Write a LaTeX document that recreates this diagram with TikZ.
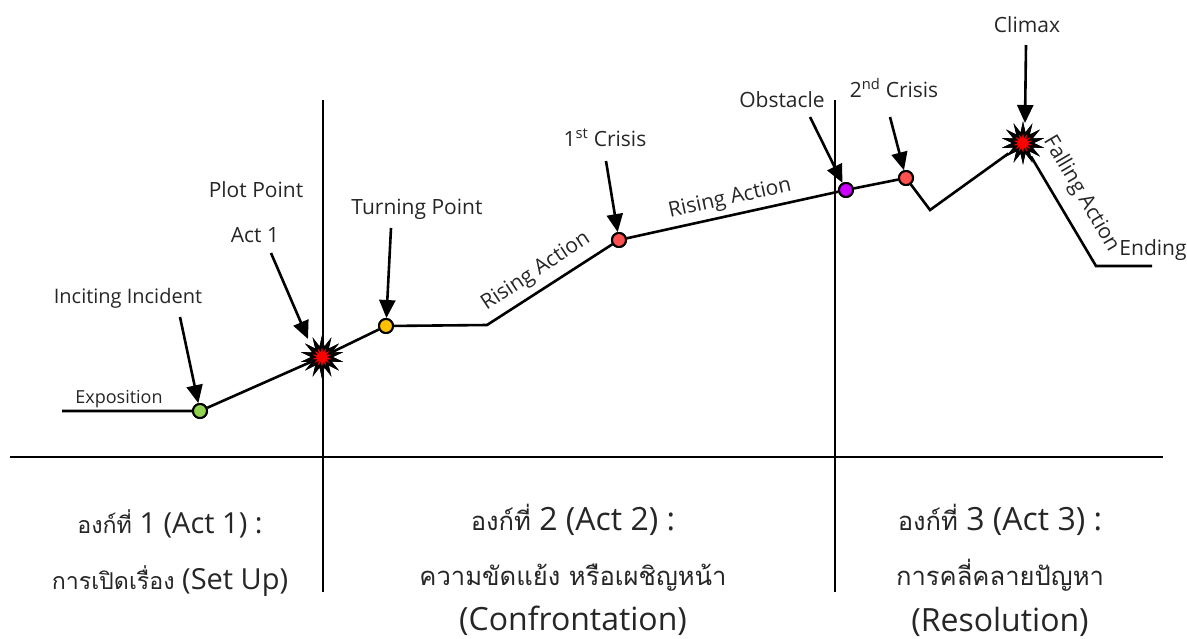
\documentclass[tikz,border=0pt]{standalone}
\usepackage{fontspec}
\setmainfont{Open Sans}
\newfontfamily\thaifont[Script=Thai,Scale=0.8]{Loma}
\usetikzlibrary{shapes.geometric,arrows.meta}
\definecolor{txt}{HTML}{262626}
\definecolor{dgreen}{HTML}{92D050}
\definecolor{dyellow}{HTML}{FFC000}
\definecolor{dred}{HTML}{FF5050}
\definecolor{dpurple}{HTML}{CC00FF}
\tikzset{
  lbl/.style={text=txt, font=\fontsize{21}{24}\selectfont, inner sep=0pt, anchor=base},
  rlbl/.style={text=txt, font=\fontsize{21}{24}\selectfont, inner sep=0pt},
  big/.style={text=txt, font=\fontsize{32}{36}\selectfont, inner sep=0pt, anchor=base},
  bigs/.style={text=txt, font=\fontsize{29}{34}\selectfont, inner sep=0pt, anchor=base},
  dot/.style={circle, draw=black, line width=2pt, minimum size=14pt, inner sep=0pt},
  burst/.style={star, star points=14, star point ratio=2.0, minimum size=32pt, inner sep=0pt, draw=black, fill=red, line width=2.4pt, miter limit=20},
  plotline/.style={line width=2.6pt, line join=miter},
  arr/.style={line width=2.6pt, -{Triangle[length=18pt,width=16pt]}},
  thin/.style={line width=1.1pt}
}
\begin{document}
\begin{tikzpicture}[x=1pt,y=-1pt]
\useasboundingbox (0,0) rectangle (1187,638);
% axes
\coordinate (axl) at (10,457);
\coordinate (axr) at (1163,457);
\coordinate (v1t) at (323,100);
\coordinate (v1b) at (323,592);
\coordinate (v2t) at (835,100);
\coordinate (v2b) at (835,592);
\draw[thin] (axl) -- (axr);
\draw[thin] (v1t) -- (v1b);
\draw[thin] (v2t) -- (v2b);
% plot points
\coordinate (p0) at (62,411);
\coordinate (p3) at (487,325);
\coordinate (p7) at (930,210);
\coordinate (p9) at (1096,266);
\coordinate (p10) at (1152,266);
\node[dot, fill=dgreen] (gdot) at (200,411) {};
\node[burst] (pp) at (322,357) {};
\node[dot, fill=dyellow] (ydot) at (386,326) {};
\node[dot, fill=dred] (r1dot) at (619,240) {};
\node[dot, fill=dpurple] (pdot) at (846,190) {};
\node[dot, fill=dred] (r2dot) at (906,178) {};
\node[burst] (cl) at (1023,143) {};
\draw[plotline] (p0) -- (gdot) -- (pp) -- (ydot) -- (p3) -- (r1dot) -- (pdot) -- (r2dot) -- (p7) -- (cl) -- (p9) -- (p10);
% redraw markers on top
\node[dot, fill=dgreen] at (gdot) {};
\node[dot, fill=dyellow] at (ydot) {};
\node[dot, fill=dred] at (r1dot) {};
\node[dot, fill=dpurple] at (pdot) {};
\node[dot, fill=dred] at (r2dot) {};
\node[burst] at (pp) {};
\node[burst] at (cl) {};
% arrows
\coordinate (a1) at (180,317);
\coordinate (a2) at (271,253);
\coordinate (t2) at (308,339);
\coordinate (a3) at (391,228);
\coordinate (a4) at (606,161);
\coordinate (a5) at (810,117);
\coordinate (a6) at (890,117);
\coordinate (a7) at (1026,45);
\coordinate (t7) at (1025,123);
\draw[arr] (a1) -- (gdot);
\draw[arr] (a2) -- (t2);
\draw[arr] (a3) -- (ydot);
\draw[arr] (a4) -- (r1dot);
\draw[arr] (a5) -- (pdot);
\draw[arr] (a6) -- (r2dot);
\draw[arr] (a7) -- (t7);
% labels
\node[lbl, font=\fontsize{18}{22}\selectfont] (lexp) at (119,403) {Exposition};
\node[lbl, font=\fontsize{20}{24}\selectfont] (linc) at (128,303) {Inciting Incident};
\node[lbl] (lpp) at (256,197) {Plot Point};
\node[lbl] (lact) at (255,242) {Act 1};
\node[lbl] (ltp) at (417,214) {Turning Point};
\node[lbl] (lc1) at (605,146) {1\textsuperscript{st} Crisis};
\node[rlbl, rotate=33.5] (lra1) at (536,272) {Rising Action};
\node[rlbl, rotate=12.4] (lra2) at (730,199) {Rising Action};
\node[lbl] (lobs) at (782,107) {Obstacle};
\node[lbl] (lc2) at (894,97) {2\textsuperscript{nd} Crisis};
\node[lbl] (lcl) at (1027,32) {Climax};
\node[rlbl, rotate=-59.5] (lfa) at (1081,194) {Falling Action};
\node[lbl] (lend) at (1153,255) {Ending};
% bottom
\node[bigs] (b11) at (170,533) {{\thaifont องก์ที่} 1 (Act 1) :};
\node[bigs] (b12) at (170,589) {{\thaifont การเปิดเรื่อง} (Set Up)};
\node[big] (b21) at (573,530) {{\thaifont องก์ที่} 2 (Act 2) :};
\node[big] (b22) at (573,585) {\thaifont ความขัดแย้ง หรือเผชิญหน้า};
\node[big] (b23) at (573,630) {(Confrontation)};
\node[big] (b31) at (1000,530) {{\thaifont องก์ที่} 3 (Act 3) :};
\node[big] (b32) at (1000,585) {\thaifont การคลี่คลายปัญหา};
\node[big] (b33) at (1000,631) {(Resolution)};
\end{tikzpicture}
\end{document}
